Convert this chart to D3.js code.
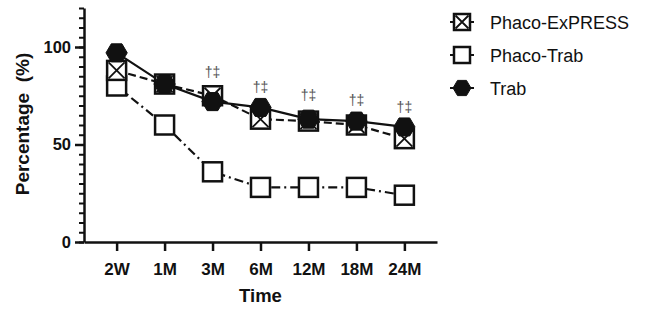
<!DOCTYPE html>
<html>
<head>
<meta charset="utf-8">
<script src="https://cdn.jsdelivr.net/npm/d3@7"></script>
<style>
  body { margin: 0; background: #fff; }
  svg { font-family: "Liberation Sans", Arial, sans-serif; }
</style>
</head>
<body>
<div id="chart"></div>
<script>
// Data
var timepoints = ["2W", "1M", "3M", "6M", "12M", "18M", "24M"];
var phacoExpress = [88, 81, 75, 63, 62, 60, 53];
var phacoTrab = [80, 60, 36, 28, 28, 28, 24];
var trab = [97, 81, 72, 69, 63, 62, 59];
var seriesNames = ["Phaco-ExPRESS", "Phaco-Trab", "Trab"];
var yMajorTicks = [0, 50, 100];
// significance marks (time point, height in %)
var markTimes = ["3M", "6M", "12M", "18M", "24M"];
var markHeights = [87, 79.5, 75.5, 73, 69];
var markText = "\u2020\u2021";

var W = 646, H = 315;
var svg = d3.select("#chart").append("svg")
    .attr("width", W)
    .attr("height", H);

var xScale = d3.scalePoint()
    .domain(timepoints)
    .range([84, 437])
    .padding(0.68);
var yScale = d3.scaleLinear()
    .domain([0, 120])
    .range([242, 8]);

// minor y ticks
svg.append("g")
    .attr("transform", "translate(84,0)")
    .call(d3.axisLeft(yScale).tickValues(d3.range(0, 121, 5)).tickSize(5).tickSizeOuter(0).tickFormat(""))
    .call(function(g) { g.select(".domain").remove(); })
    .selectAll("line").attr("stroke", "#111").attr("stroke-width", 2);

// major y axis
var yAxis = svg.append("g")
    .attr("transform", "translate(84,0)")
    .call(d3.axisLeft(yScale).tickValues(yMajorTicks).tickSize(9).tickSizeOuter(0).tickPadding(4));
yAxis.selectAll("line").attr("stroke", "#111").attr("stroke-width", 2.5);
yAxis.select(".domain").attr("stroke", "#111").attr("stroke-width", 2.5);
yAxis.selectAll("text")
    .attr("font-size", "16.5px").attr("font-weight", "bold").attr("fill", "#111")
    .attr("font-family", "Liberation Sans, Arial, sans-serif");

// x axis
var xAxis = svg.append("g")
    .attr("transform", "translate(0,242)")
    .call(d3.axisBottom(xScale).tickSize(9).tickSizeOuter(0).tickPadding(12));
xAxis.selectAll("line").attr("stroke", "#111").attr("stroke-width", 2.5);
xAxis.select(".domain").attr("stroke", "#111").attr("stroke-width", 2.5);
xAxis.selectAll("text")
    .attr("font-size", "17px").attr("font-weight", "bold").attr("fill", "#111")
    .attr("font-family", "Liberation Sans, Arial, sans-serif");

// axis titles
svg.append("text")
    .attr("transform", "translate(29,124) rotate(-90)")
    .attr("text-anchor", "middle")
    .attr("font-size", "19px")
    .attr("font-weight", "bold")
    .attr("fill", "#111")
    .attr("xml:space", "preserve")
    .text("Percentage  (%)");
svg.append("text")
    .attr("x", 260.5)
    .attr("y", 302)
    .attr("text-anchor", "middle")
    .attr("font-size", "18.5px")
    .attr("font-weight", "bold")
    .attr("fill", "#111")
    .text("Time");

// marker shapes
function hexPath(w, h) {
    return "M" + (-w / 2) + ",0L" + (-w / 4) + "," + (-h / 2) + "L" + (w / 4) + "," + (-h / 2) +
        "L" + (w / 2) + ",0L" + (w / 4) + "," + (h / 2) + "L" + (-w / 4) + "," + (h / 2) + "Z";
}
function drawMarker(g, kind, s) {
    if (kind === "hex") {
        g.append("path").attr("d", hexPath(s * 1.12, s * 0.95))
            .attr("fill", "#111").attr("stroke", "#111").attr("stroke-width", 1);
    } else {
        g.append("rect")
            .attr("x", -s / 2).attr("y", -s / 2).attr("width", s).attr("height", s)
            .attr("fill", "#fff").attr("stroke", "#111").attr("stroke-width", 2.5);
        if (kind === "cross") {
            var a = s / 2 - 1.5;
            g.append("path")
                .attr("d", "M" + (-a) + "," + (-a) + "L" + a + "," + a + "M" + a + "," + (-a) + "L" + (-a) + "," + a)
                .attr("stroke", "#111").attr("stroke-width", 1.8).attr("fill", "none");
        }
    }
}

var series = [
    { name: seriesNames[1], values: phacoTrab, dash: "9,4,2,4", kind: "square" },
    { name: seriesNames[0], values: phacoExpress, dash: "8,4", kind: "cross" },
    { name: seriesNames[2], values: trab, dash: null, kind: "hex" }
];

var line = d3.line()
    .x(function(d, i) { return xScale(timepoints[i]); })
    .y(function(d) { return yScale(d); });

series.forEach(function(s) {
    svg.append("path")
        .datum(s.values)
        .attr("d", line)
        .attr("fill", "none")
        .attr("stroke", "#111")
        .attr("stroke-width", 2.2)
        .attr("stroke-dasharray", s.dash);
});

series.forEach(function(s) {
    s.values.forEach(function(v, i) {
        var g = svg.append("g")
            .attr("transform", "translate(" + xScale(timepoints[i]) + "," + yScale(v) + ")");
        drawMarker(g, s.kind, 19);
    });
});

// significance marks
svg.selectAll(".mark")
    .data(markTimes)
    .enter()
    .append("text")
    .attr("class", "mark")
    .attr("x", function(d) { return xScale(d); })
    .attr("y", function(d, i) { return yScale(markHeights[i]) + 5; })
    .attr("text-anchor", "middle")
    .attr("font-size", "14px")
    .attr("fill", "#555")
    .text(markText);

// legend
var legendKinds = ["cross", "square", "hex"];
var legendY = [22, 55, 88];
seriesNames.forEach(function(name, i) {
    var g = svg.append("g").attr("transform", "translate(462," + legendY[i] + ")");
    g.append("line").attr("x1", -12).attr("x2", 12)
        .attr("stroke", "#111").attr("stroke-width", 2);
    drawMarker(g, legendKinds[i], 16);
    svg.append("text")
        .attr("x", 490)
        .attr("y", legendY[i] + 6.5)
        .attr("font-size", "18px")
        .attr("fill", "#111")
        .text(name);
});
</script>
</body>
</html>
